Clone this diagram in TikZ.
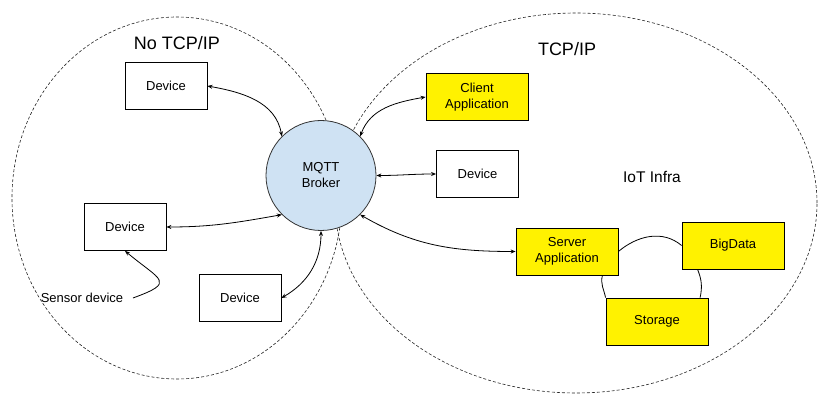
\documentclass[tikz,border=0pt]{standalone}
\usepackage{fontspec}
\setmainfont{Liberation Sans}
\usetikzlibrary{arrows.meta}
\definecolor{brokerblue}{HTML}{CFE2F3}

\begin{document}
\begin{tikzpicture}[x=1pt,y=1pt,<->,>={Stealth[length=5pt,width=4pt]},line width=0.8pt]
    \tikzstyle{every node}=[font=\fontsize{13}{16}\selectfont]
    \tikzstyle{box}=[rectangle,draw=black,line width=0.8pt,minimum width=82pt,minimum height=47pt,inner sep=0pt,align=center]
    \tikzstyle{device}=[box, fill=white]
    \tikzstyle{app}=[box, fill=yellow, minimum width=102pt]
    \tikzstyle{broker}=[circle,draw=black!80,fill=brokerblue,minimum size=110pt,inner sep=0pt,align=center]
    \tikzstyle{zone}=[-,draw=black!85,line width=0.6pt,dash pattern=on 3pt off 2pt]
    \tikzstyle{title}=[font=\fontsize{18}{22}\selectfont]

    \useasboundingbox (0,0) rectangle (830,407);

    % Draw the two network zones
    \draw[zone] (177,209) ellipse (165 and 181);
    \draw[zone] (576,204) ellipse (241 and 190);
    \node[title] (notcp) at (177,364) {No TCP/IP};
    \node[title] (tcp) at (567,358) {TCP/IP};
    \node[font=\fontsize{15.5}{18}\selectfont] (infra) at (652,230) {IoT Infra};

    % Draw the broker
    \node[broker] (B) at (321,231.5) {MQTT\\Broker};

    % Draw the device nodes
    \foreach \name/\x/\y in {D-1/166/321, D-2/125/180, D-3/240/109, D-4/477.5/233}
        \node[device] (\name) at (\x,\y) {Device};

    % Draw the application nodes
    \node[app] (client) at (477,310) {Client\\Application};
    \node[app] (server) at (567,155.5) {Server\\Application};
    \node[app] (bigdata) at (733,161.5) {BigData};
    \node[app] (storage) at (657,85.5) {Storage};

    \node (sensor) at (82,109) {Sensor device};

    % Connect every device and application with the broker
    \foreach \source/\dest/\out/\in in {D-1.east/B.135/-10/100, D-2.east/B.225/0/190,
        D-3.east/B.south/30/-90, client.west/B.45/190/70, D-4.west/B.east/180/0,
        server.west/B.-45/180/-30}
        \path (\source) edge[out=\out,in=\in] (\dest);

    % The sensor note points at its device
    \path[->] ([xshift=6pt]sensor.east) edge[out=20,in=-40,looseness=2.5] (D-2.south);

    % Ring between the infrastructure nodes
    \path[-] (server.east) edge[out=40,in=140] (bigdata.west)
             (bigdata.214) edge[out=-68,in=78] (storage.29)
             (server.-34) edge[out=255,in=102] (storage.north west);
\end{tikzpicture}
\end{document}
